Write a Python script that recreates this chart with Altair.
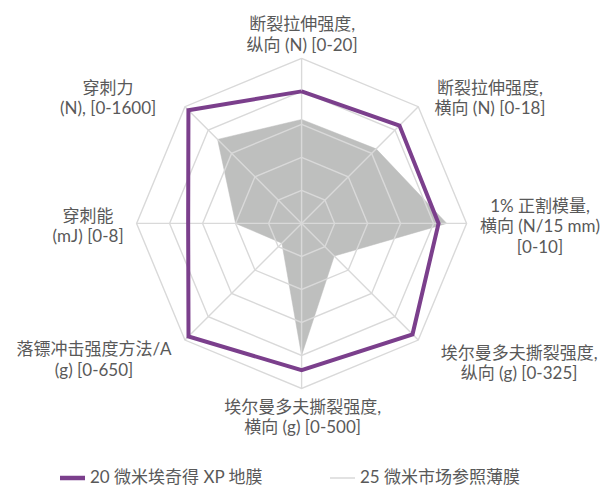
import altair as alt
import pandas as pd

# ---------------- data ----------------
axis_labels = [
    "断裂拉伸强度,\n纵向 (N) [0-20]",
    "断裂拉伸强度,\n横向 (N) [0-18]",
    "1% 正割模量,\n横向 (N/15 mm)\n[0-10]",
    "埃尔曼多夫撕裂强度,\n纵向 (g) [0-325]",
    "埃尔曼多夫撕裂强度,\n横向 (g) [0-500]",
    "落镖冲击强度方法/A\n(g) [0-650]",
    "穿刺能\n(mJ) [0-8]",
    "穿刺力\n(N), [0-1600]",
]
axis_max = [20, 18, 10, 325, 500, 650, 8, 1600]
series_names = ["20 微米埃奇得 XP 地膜", "25 微米市场参照薄膜"]
xp_values = [16.0, 15.1, 8.3, 309, 445, 630, 5.5, 1552]
ref_values = [12.6, 11.5, 8.8, 91, 400, 110, 3.2, 1152]
grid_levels = [0.2, 0.4, 0.6, 0.8, 1.0]

# ---------------- layout / style ----------------
W, H = 597, 481
R_PX = 165.0
CX, CY = 293.6, 215.4  # centre inside the plot area (px)
x_dom = [-CX / R_PX, (W - CX) / R_PX]
y_dom = [-(H - CY) / R_PX, CY / R_PX]
# first-line anchor positions of the axis labels, in radius units (x right, y up)
label_pos = [
    (0.003, 1.200), (1.142, 0.817), (1.445, 0.102), (1.318, -0.789),
    (0.006, -1.116), (-1.258, -0.769), (-1.294, 0.041), (-1.173, 0.817),
]
PURPLE = "#7b3f8c"
FILL_GRAY = "#bebfbe"
GRID = "#d9d9d9"
TEXT = "#595959"
FONT = "Lato, Noto Sans CJK SC"
FS = 17

n = len(axis_labels)

xs = alt.Scale(domain=x_dom, nice=False, zero=False)
ys = alt.Scale(domain=y_dom, nice=False, zero=False)
X = lambda f: alt.X(f"{f}:Q", scale=xs, axis=None)
Y = lambda f: alt.Y(f"{f}:Q", scale=ys, axis=None)

# series table (closed polygon)
rows = []
for s, vals in zip(series_names, [xp_values, ref_values]):
    for i in range(n + 1):
        rows.append({"series": s, "idx": i, "value": vals[i % n], "max": axis_max[i % n]})
series_df = pd.DataFrame(rows)

ring_df = pd.DataFrame([{"level": l, "idx": i} for l in grid_levels for i in range(n + 1)])
spoke_df = pd.DataFrame({"idx": list(range(n))})
label_df = pd.DataFrame({
    "label": axis_labels,
    "lx": [p[0] for p in label_pos],
    "ly": [p[1] for p in label_pos],
})

ang = f"datum.idx * 2 * PI / {n}"

rings = alt.Chart(ring_df).transform_calculate(
    x=f"datum.level * sin({ang})", y=f"datum.level * cos({ang})"
).mark_line(stroke=GRID, strokeWidth=1.4).encode(
    x=X("x"), y=Y("y"), detail="level:N", order="idx:Q"
)

spokes = alt.Chart(spoke_df).transform_calculate(
    x0="0", y0="0", x1=f"sin({ang})", y1=f"cos({ang})"
).mark_rule(stroke=GRID, strokeWidth=1.4).encode(
    x=X("x0"), y=Y("y0"), x2="x1:Q", y2="y1:Q"
)

poly = alt.Chart(series_df).transform_calculate(
    r="datum.value / datum.max",
).transform_calculate(
    x=f"datum.r * sin({ang})", y=f"datum.r * cos({ang})"
)

ref_area = poly.transform_filter(
    alt.datum.series == series_names[1]
).mark_line(fill=FILL_GRAY, stroke=FILL_GRAY, strokeWidth=0.5).encode(
    x=X("x"), y=Y("y"), order="idx:Q"
)

xp_line = poly.transform_filter(
    alt.datum.series == series_names[0]
).mark_line(stroke=PURPLE, strokeWidth=4, strokeJoin="miter").encode(
    x=X("x"), y=Y("y"), order="idx:Q"
)

labels = alt.Chart(label_df).mark_text(
    font=FONT, fontSize=FS, color=TEXT, align="center", baseline="middle",
    lineBreak="\n", lineHeight=20.5
).encode(x=X("lx"), y=Y("ly"), text="label:N")

# legend
leg_df = pd.DataFrame({"name": series_names, "k": [0, 1]})
leg_sym_x = [52, 322]
leg_txt_x = [82, 352]
LEG_Y = 470
legend_layers = []
for k, (col, sw) in enumerate([(PURPLE, 4.5), (GRID, 1.5)]):
    one = alt.Chart(leg_df).transform_filter(alt.datum.k == k)
    legend_layers.append(one.mark_rule(stroke=col, strokeWidth=sw).encode(
        x=alt.value(leg_sym_x[k]), x2=alt.value(leg_sym_x[k] + 25), y=alt.value(LEG_Y)))
    legend_layers.append(one.mark_text(
        font=FONT, fontSize=FS, color=TEXT, align="left", baseline="middle"
    ).encode(x=alt.value(leg_txt_x[k]), y=alt.value(LEG_Y), text="name:N"))

chart = alt.layer(ref_area, rings, spokes, xp_line, labels, *legend_layers).properties(
    width=W, height=H, padding=0, autosize=alt.AutoSizeParams(type="none"),
    background="white"
).configure_view(stroke=None)

chart.save("out.html", embed_options={"renderer": "svg", "actions": False})
